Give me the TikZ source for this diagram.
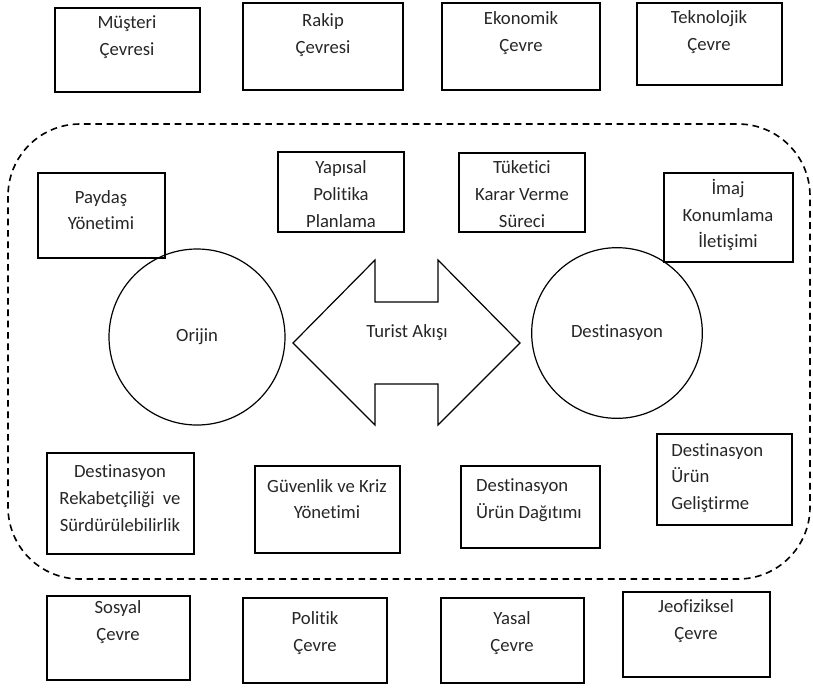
\documentclass[tikz,border=0pt]{standalone}
\usepackage{fontspec}
\setmainfont{Carlito}[Ligatures=NoCommon]
\usetikzlibrary{fit}
\begin{document}
\begin{tikzpicture}[x=0.75pt,y=-0.75pt,
  box/.style={draw=black, line width=1.1pt, inner sep=0pt},
  txt/.style={align=center, font=\fontsize{14}{20}\selectfont, inner sep=0pt, text=black!85},
  shapeline/.style={draw=black, line width=0.9pt}]
\useasboundingbox (0,0) rectangle (813,687);
% dashed region
\draw[line width=1.2pt, dash pattern=on 5pt off 3.5pt, rounded corners=54pt] (8,124) rectangle (810,579);
% top row
\node[box, fit={(55,8) (200,92)}] (b1) {};
\node[txt] (t1) at (127,37) {Müşteri\\Çevresi};
\node[box, fit={(243,3) (403,90)}] (b2) {};
\node[txt] (t2) at (323,35) {Rakip\\Çevresi};
\node[box, fit={(442,3) (600,90)}] (b3) {};
\node[txt] (t3) at (521,33) {Ekonomik\\Çevre};
\node[box, fit={(637,3) (782,85)}] (b4) {};
\node[txt] (t4) at (709,32) {Teknolojik\\Çevre};
% inner upper row
\node[box, fit={(38,173) (165,258)}] (b5) {};
\node[txt] (t5) at (101,210) {Paydaş\\Yönetimi};
\node[box, fit={(278,152) (404,232)}] (b6) {};
\node[txt] (t6) at (341,194) {Yapısal\\Politika\\Planlama};
\node[box, fit={(459,153) (585,232)}] (b7) {};
\node[txt] (t7) at (522,194) {Tüketici\\Karar Verme\\Süreci};
\node[box, fit={(664,173) (793,262)}] (b8) {};
\node[txt] (t8) at (728,215) {İmaj\\Konumlama\\İletişimi};
% circles
\node[shapeline, circle, minimum size=132pt, inner sep=0pt] (orijin) at (197,337) {};
\node[txt] (to) at (197,337) {Orijin};
\node[shapeline, circle, minimum size=128pt, inner sep=0pt] (dest) at (617,333) {};
\node[txt] (td) at (617,333) {Destinasyon};
% double arrow
\draw[shapeline, line join=miter] (293,343) -- (375,260) -- (375,302) -- (438,302) -- (438,260)
  -- (520,343) -- (438,425) -- (438,384) -- (375,384) -- (375,425) -- cycle;
\node[txt] (flow) at (407,333) {Turist Akışı};
% inner lower row
\node[box, fit={(47,453) (194,554)}] (b9) {};
\node[txt] (t9) at (120,498) {Destinasyon\\Rekabetçiliği~ ve\\Sürdürülebilirlik};
\node[box, fit={(255,466) (400,553)}] (b10) {};
\node[txt] (t10) at (327,499) {Güvenlik ve Kriz\\Yönetimi};
\node[box, fit={(461,466) (600,548)}] (b11) {};
\node[txt, align=left] (t11) at (529,500) {Destinasyon\\Ürün Dağıtımı};
\node[box, fit={(657,434) (792,525)}] (b12) {};
\node[txt, align=left, anchor=west] (t12) at (671,478) {Destinasyon\\Ürün\\Geliştirme};
% bottom row
\node[box, fit={(47,596) (190,680)}] (b13) {};
\node[txt] (t13) at (118,622) {Sosyal\\Çevre};
\node[box, fit={(243,598) (387,683)}] (b14) {};
\node[txt] (t14) at (315,633) {Politik\\Çevre};
\node[box, fit={(441,598) (584,683)}] (b15) {};
\node[txt] (t15) at (512,633) {Yasal\\Çevre};
\node[box, fit={(623,592) (770,677)}] (b16) {};
\node[txt] (t16) at (696,621) {Jeofiziksel\\Çevre};
\end{tikzpicture}
\end{document}
